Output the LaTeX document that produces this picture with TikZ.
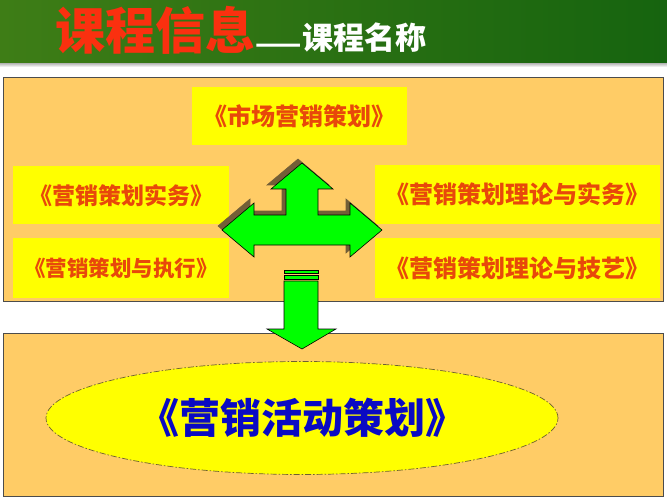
\documentclass[tikz,border=0pt]{standalone}
\usepackage{fontspec}
\newfontfamily\cjk{Noto Sans CJK SC}
\usetikzlibrary{shapes.geometric, positioning}

\definecolor{bandleft}{RGB}{62,125,22}
\definecolor{bandright}{RGB}{22,100,15}
\definecolor{titlered}{RGB}{250,48,15}
\definecolor{panelorange}{RGB}{255,204,102}
\definecolor{boxyellow}{RGB}{255,255,0}
\definecolor{boxred}{RGB}{232,72,10}
\definecolor{activityblue}{RGB}{10,10,195}
\definecolor{arrowgreen}{RGB}{0,255,0}
\definecolor{arrowshadow}{RGB}{115,95,55}
\definecolor{rimolive}{RGB}{110,95,50}

\begin{document}
\begin{tikzpicture}[
    x=1pt, y=-1pt,
    % Panel behind the boxes
    panel/.style={
        rectangle,
        draw=black!70,
        line width=0.8pt,
        fill=panelorange,
        anchor=north west,
        inner sep=0pt
    },
    % Yellow course box
    coursebox/.style={
        rectangle,
        fill=boxyellow,
        anchor=north west,
        inner sep=0pt,
        text=boxred,
        font=\cjk\bfseries\fontsize{#1}{#1}\selectfont
    },
    % Block arrows
    blockarrow/.style={
        fill=arrowgreen,
        draw=black,
        line width=0.6pt,
        line join=miter
    }
]
\useasboundingbox (0,0) rectangle (667,500);

% === Header band ===
\fill[top color=black!45, bottom color=white] (0,61) rectangle (667,67);
\node[rectangle, left color=bandleft, right color=bandright, anchor=north west,
    inner sep=0pt, minimum width=667pt, minimum height=62pt] (header) at (0,0) {};
\node[anchor=base west, inner sep=0pt, text=titlered,
    font=\cjk\bfseries\fontsize{50}{50}\selectfont] (title) at (55,50) {课程信息};
\node[anchor=base west, inner sep=0pt, text=white,
    font=\cjk\bfseries\fontsize{27}{27}\selectfont] (dash) at ([yshift=-4pt]title.base east) {——};
\node[anchor=base west, inner sep=0pt, text=white,
    font=\cjk\bfseries\fontsize{31}{31}\selectfont] (subtitle) at ([yshift=4pt]dash.base east) {课程名称};

% === Upper panel: related courses ===
\node[panel, minimum width=660pt, minimum height=224pt] (toppanel) at (3,77) {};

\node[coursebox=24, minimum width=215pt, minimum height=58pt] (market) at (192,87) {《市场营销策划》};
\node[coursebox=23, minimum width=216pt, minimum height=58pt] (practice) at (13,166) {《营销策划实务》};
\node[coursebox=21.5, minimum width=216pt, minimum height=60pt] (execute) at (13,238) {《营销策划与执行》};
\node[coursebox=24, minimum width=285pt, minimum height=59pt] (theorypractice) at (375,165) {《营销策划理论与实务》};
\node[coursebox=24, minimum width=285pt, minimum height=60pt] (theoryskill) at (375,238) {《营销策划理论与技艺》};

% === Three-way arrow ===
\foreach \shade/\fillcol/\drawcol in {{-4,-4}/arrowshadow/arrowshadow, {0,0}/arrowgreen/black}
    \filldraw[blockarrow, fill=\fillcol, draw=\drawcol, shift={(\shade)}]
        (302,163) -- (333,189) -- (318,189) -- (318,215) -- (350,215) -- (350,203)
        -- (382,230) -- (350,257) -- (350,245) -- (254,245) -- (254,257)
        -- (222,230) -- (254,203) -- (254,215) -- (286,215) -- (286,189)
        -- (271,189) -- cycle;

% === Lower panel: this course ===
\node[panel, minimum width=660pt, minimum height=163pt] (botpanel) at (3,333) {};
\node[ellipse, draw=rimolive, line width=0.7pt,
    dash pattern=on 6pt off 2pt on 1.5pt off 2pt,
    fill=boxyellow, minimum width=512pt, minimum height=113pt, inner sep=0pt,
    text=activityblue, font=\cjk\bfseries\fontsize{41}{41}\selectfont]
    (activity) at (302,418) {《营销活动策划》};

% === Down arrow ===
\filldraw[blockarrow] (284,270) rectangle (318,273);
\filldraw[blockarrow] (284,275) rectangle (318,279);
\filldraw[blockarrow] (284,281) -- (318,281) -- (318,329) -- (336,329)
    -- (302,349) -- (267,329) -- (284,329) -- cycle;

\end{tikzpicture}
\end{document}
